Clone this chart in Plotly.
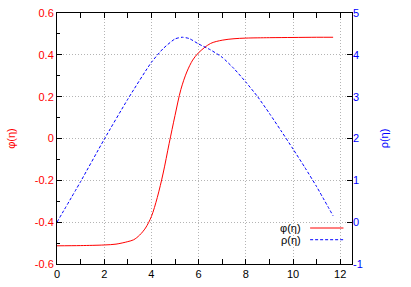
import plotly.graph_objects as go

# ---- data ----
eta_phi = [0, 1, 2, 2.5, 3, 3.25, 3.5, 3.75, 4.0, 4.25, 4.5, 4.75, 5.0, 5.25, 5.5,
           5.75, 6.0, 6.5, 7.0, 7.5, 8, 9, 10, 11, 11.7]
phi = [-0.513, -0.512, -0.509, -0.505, -0.493, -0.484, -0.462, -0.428, -0.373, -0.282,
       -0.165, -0.025, 0.11, 0.235, 0.318, 0.375, 0.41, 0.454, 0.470, 0.477, 0.480,
       0.482, 0.483, 0.484, 0.484]

eta_rho = [0, 1, 2, 3, 4, 4.5, 5, 5.3, 5.6, 6, 6.5, 7, 7.5, 8, 8.5, 9, 9.5, 10,
           10.5, 11, 11.7]
rho = [0, 0.97, 1.98, 2.94, 3.82, 4.15, 4.38, 4.42, 4.39, 4.26, 4.12, 3.94, 3.67,
       3.35, 3.0, 2.6, 2.18, 1.75, 1.31, 0.85, 0.15]

x_ticks = [0, 2, 4, 6, 8, 10, 12]
y1_ticks = [-0.6, -0.4, -0.2, 0, 0.2, 0.4, 0.6]
y1_labels = ["-0.6", "-0.4", "-0.2", "0", "0.2", "0.4", "0.6"]
y2_ticks = [-1, 0, 1, 2, 3, 4, 5]
y2_labels = ["-1", "0", "1", "2", "3", "4", "5"]
names = ["φ(η)", "ρ(η)"]

RED = "#ff0000"
BLUE = "#0000ff"
FONT = "Liberation Sans, Arial, sans-serif"
DASH = "3px,2px"

fig = go.Figure()
fig.add_trace(go.Scatter(x=eta_phi, y=phi, mode="lines", name=names[0],
                         line=dict(color=RED, width=1, shape="spline", smoothing=0.9),
                         yaxis="y", showlegend=False, hoverinfo="skip"))
fig.add_trace(go.Scatter(x=eta_rho, y=rho, mode="lines", name=names[1],
                         line=dict(color=BLUE, width=1, dash=DASH, shape="spline",
                                   smoothing=0.6),
                         yaxis="y2", showlegend=False, hoverinfo="skip"))

# gnuplot-style key (text right-aligned, sample on the right)
for i, (nm, col, dash) in enumerate([(names[0], RED, "solid"), (names[1], BLUE, DASH)]):
    yy = 0.1434 - i * 0.0466
    fig.add_annotation(x=0.834, y=yy, xref="paper", yref="paper", text=nm,
                       showarrow=False, xanchor="right", yanchor="middle",
                       font=dict(family=FONT, size=11, color="black"))
    fig.add_shape(type="line", xref="paper", yref="paper", x0=0.858, x1=0.971,
                  y0=yy, y1=yy, line=dict(color=col, width=1, dash=dash))

grid = dict(showgrid=True, gridcolor="#b4b4b4", griddash="1px,2px", gridwidth=1)

fig.update_layout(
    width=411, height=287,
    margin=dict(l=57, r=59, t=13, b=23, autoexpand=False),
    paper_bgcolor="white", plot_bgcolor="white",
    font=dict(family=FONT, size=11, color="black"),
    xaxis=dict(range=[0, 12.5], tickvals=x_ticks, ticks="inside", ticklen=5,
               tickcolor="black", showline=True, linecolor="black", linewidth=1,
               mirror="allticks", zeroline=False, automargin=False,
               minor=dict(dtick=1, ticks="inside", ticklen=3, tickcolor="black",
                          showgrid=False),
               tickfont=dict(color="black", size=11), **grid),
    yaxis=dict(range=[-0.6, 0.6], tickvals=y1_ticks, ticktext=y1_labels,
               ticks="inside", ticklen=5, tickcolor="black", showline=True,
               linecolor="black", linewidth=1, mirror=True, zeroline=False,
               automargin=False,
               minor=dict(dtick=0.1, ticks="inside", ticklen=3, tickcolor="black",
                          showgrid=False),
               tickfont=dict(color=RED, size=11),
               title=dict(text=names[0], font=dict(color=RED, size=11), standoff=16),
               **grid),
    yaxis2=dict(range=[-1, 5], tickvals=y2_ticks, ticktext=y2_labels,
                overlaying="y", side="right", ticks="inside", ticklen=5,
                tickcolor="black", showline=False, showgrid=False, zeroline=False,
                automargin=False,
                tickfont=dict(color=BLUE, size=11),
                title=dict(text=names[1], font=dict(color=BLUE, size=11), standoff=18)),
)

fig.write_html("out.html", config={"displayModeBar": False},
               post_script="document.body.style.margin='0';document.body.style.padding='0';")
